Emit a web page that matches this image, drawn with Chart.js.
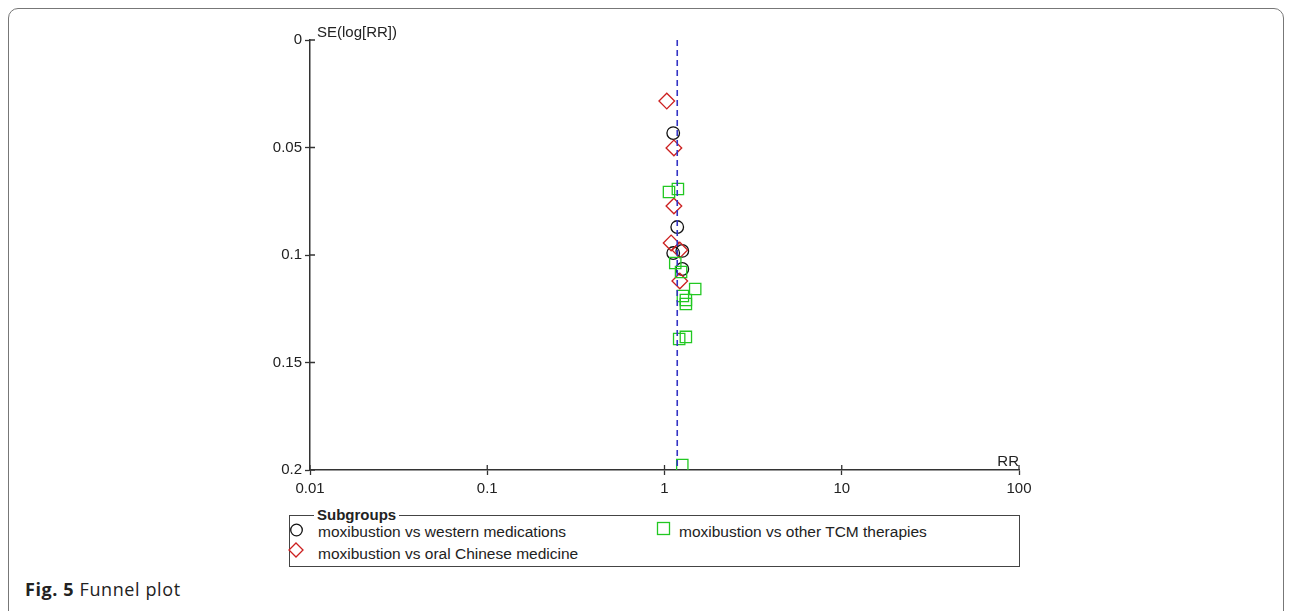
<!DOCTYPE html>
<html>
<head>
<meta charset="utf-8">
<script src="https://cdn.jsdelivr.net/npm/chart.js@4"></script>
<style>
  body { margin: 0; background: #fff; font-family: "Liberation Sans", Arial, sans-serif; color: #222; }
  #frame { position: absolute; left: 8px; top: 8px; width: 1276px; height: 700px; border: 1px solid #777; border-radius: 10px; box-sizing: border-box; }
  #chart { position: absolute; left: 0; top: 0; }
  #legend { position: absolute; left: 289px; top: 515px; width: 731px; height: 52px; border: 1.5px solid #444; box-sizing: border-box; }
  #legend .title { position: absolute; left: 24px; top: -10px; padding: 0 3px; background: #fff; font-weight: bold; font-size: 15px; line-height: 18px; }
  .item { position: absolute; font-size: 15.5px; line-height: 18px; white-space: nowrap; }
  .mark { position: absolute; }
  #caption { position: absolute; left: 25px; top: 577px; font-family: "Open Sans", sans-serif; font-size: 18px; line-height: 24px; letter-spacing: 0.6px; color: #222; }
</style>
</head>
<body>
<div id="frame"></div>
<canvas id="chart" width="1292" height="500"></canvas>
<div id="legend">
  <span class="title">Subgroups</span>
  <svg class="mark" style="left:0px;top:7px" width="16" height="16"><circle cx="6.5" cy="7" r="5.8" fill="none" stroke="#111" stroke-width="1.3"/></svg>
  <span class="item" style="left:28px;top:7px">moxibustion vs western medications</span>
  <svg class="mark" style="left:-2px;top:26px" width="18" height="18"><path d="M8 1 L15 8 L8 15 L1 8 Z" fill="none" stroke="#cc2020" stroke-width="1.3"/></svg>
  <span class="item" style="left:28px;top:29px">moxibustion vs oral Chinese medicine</span>
  <svg class="mark" style="left:366px;top:5px" width="16" height="16"><rect x="1.5" y="1.5" width="12" height="12" fill="none" stroke="#22c822" stroke-width="1.3"/></svg>
  <span class="item" style="left:389px;top:7px">moxibustion vs other TCM therapies</span>
</div>
<div id="caption"><b>Fig. 5</b> Funnel plot</div>
<script>
"use strict";

// RR (x) and SE(log[RR]) (y) per subgroup
const westernRR = [1.12, 1.18, 1.12, 1.26, 1.26];
const westernSE = [0.0433, 0.0870, 0.0991, 0.0981, 0.1065];

const oralRR = [1.03, 1.13, 1.13, 1.09, 1.22, 1.22];
const oralSE = [0.0284, 0.0502, 0.0772, 0.0944, 0.0977, 0.1121];

const tcmRR = [1.06, 1.19, 1.15, 1.24, 1.27, 1.49, 1.32, 1.32, 1.21, 1.32, 1.26];
const tcmSE = [0.0707, 0.0693, 0.1037, 0.1079, 0.1191, 0.1158, 0.1209, 0.1228, 0.1391, 0.1381, 0.1977];

const pooledRR = 1.18;

const xTicks = [0.01, 0.1, 1, 10, 100];
const xTickLabels = ['0.01', '0.1', '1', '10', '100'];
const yTicks = [0, 0.05, 0.1, 0.15, 0.2];
const yTickLabels = ['0', '0.05', '0.1', '0.15', '0.2'];

function points(xs, ys) {
    return xs.map((x, i) => ({ x: x, y: ys[i] }));
}

const tickFont = { family: 'Liberation Sans', size: 15 };
const axisColor = '#333';

// axis titles and inward halves of the tick marks
const extras = {
    id: 'extras',
    afterDraw(chart) {
        const ctx = chart.ctx;
        const xs = chart.scales.x, ys = chart.scales.y;
        ctx.save();
        ctx.strokeStyle = axisColor;
        ctx.lineWidth = 1.3;
        ctx.beginPath();
        xTicks.forEach(v => {
            const px = xs.getPixelForValue(v);
            ctx.moveTo(px, ys.bottom);
            ctx.lineTo(px, ys.bottom - 5);
        });
        yTicks.forEach(v => {
            const py = ys.getPixelForValue(v);
            ctx.moveTo(xs.left, py);
            ctx.lineTo(xs.left + 5, py);
        });
        ctx.stroke();
        ctx.fillStyle = '#222';
        ctx.font = '15px "Liberation Sans"';
        ctx.textBaseline = 'alphabetic';
        ctx.textAlign = 'left';
        ctx.fillText('SE(log[RR])', xs.left + 7, ys.top - 3);
        ctx.textAlign = 'right';
        ctx.fillText('RR', xs.right, ys.bottom - 4);
        ctx.restore();
    }
};

const ctx = document.getElementById('chart').getContext('2d');
window.funnel = new Chart(ctx, {
    type: 'scatter',
    data: {
        datasets: [{
            type: 'line',
            label: 'pooled',
            data: [{ x: pooledRR, y: 0 }, { x: pooledRR, y: 0.2 }],
            borderColor: '#3434c4',
            borderWidth: 1.6,
            borderDash: [6, 4],
            pointRadius: 0,
            fill: false
        }, {
            label: 'moxibustion vs other TCM therapies',
            data: points(tcmRR, tcmSE),
            pointStyle: 'rect',
            pointRadius: 8,
            borderColor: '#22c822',
            backgroundColor: 'rgba(0,0,0,0)',
            borderWidth: 1.3
        }, {
            label: 'moxibustion vs oral Chinese medicine',
            data: points(oralRR, oralSE),
            pointStyle: 'rectRot',
            pointRadius: 7.8,
            borderColor: '#cc2020',
            backgroundColor: 'rgba(0,0,0,0)',
            borderWidth: 1.3
        }, {
            label: 'moxibustion vs western medications',
            data: points(westernRR, westernSE),
            pointStyle: 'circle',
            pointRadius: 6.3,
            borderColor: '#111',
            backgroundColor: 'rgba(0,0,0,0)',
            borderWidth: 1.3
        }]
    },
    options: {
        responsive: false,
        animation: false,
        layout: {
            padding: { left: 270, top: 40, right: 273, bottom: 0 }
        },
        plugins: {
            legend: { display: false },
            tooltip: { enabled: false }
        },
        scales: {
            x: {
                type: 'logarithmic',
                min: 0.01,
                max: 100,
                afterBuildTicks: s => { s.ticks = xTicks.map(v => ({ value: v })); },
                afterFit: s => { s.height = 30; s.paddingLeft = 0; s.paddingRight = 0; },
                ticks: {
                    autoSkip: false,
                    maxRotation: 0,
                    padding: 5,
                    color: '#222',
                    font: tickFont,
                    callback: (v, i) => xTickLabels[i]
                },
                grid: { drawOnChartArea: false, tickLength: 5, color: axisColor, tickWidth: 1.3 },
                border: { color: axisColor, width: 1.5 }
            },
            y: {
                type: 'linear',
                reverse: true,
                min: 0,
                max: 0.2,
                afterBuildTicks: s => { s.ticks = yTicks.map(v => ({ value: v })); },
                afterFit: s => { s.width = 40; s.paddingTop = 0; s.paddingBottom = 0; },
                ticks: {
                    padding: 3,
                    color: '#222',
                    font: tickFont,
                    callback: (v, i) => yTickLabels[i]
                },
                grid: { drawOnChartArea: false, tickLength: 5, color: axisColor, tickWidth: 1.3 },
                border: { color: axisColor, width: 1.5 }
            }
        }
    },
    plugins: [extras]
});
</script>
</body>
</html>
